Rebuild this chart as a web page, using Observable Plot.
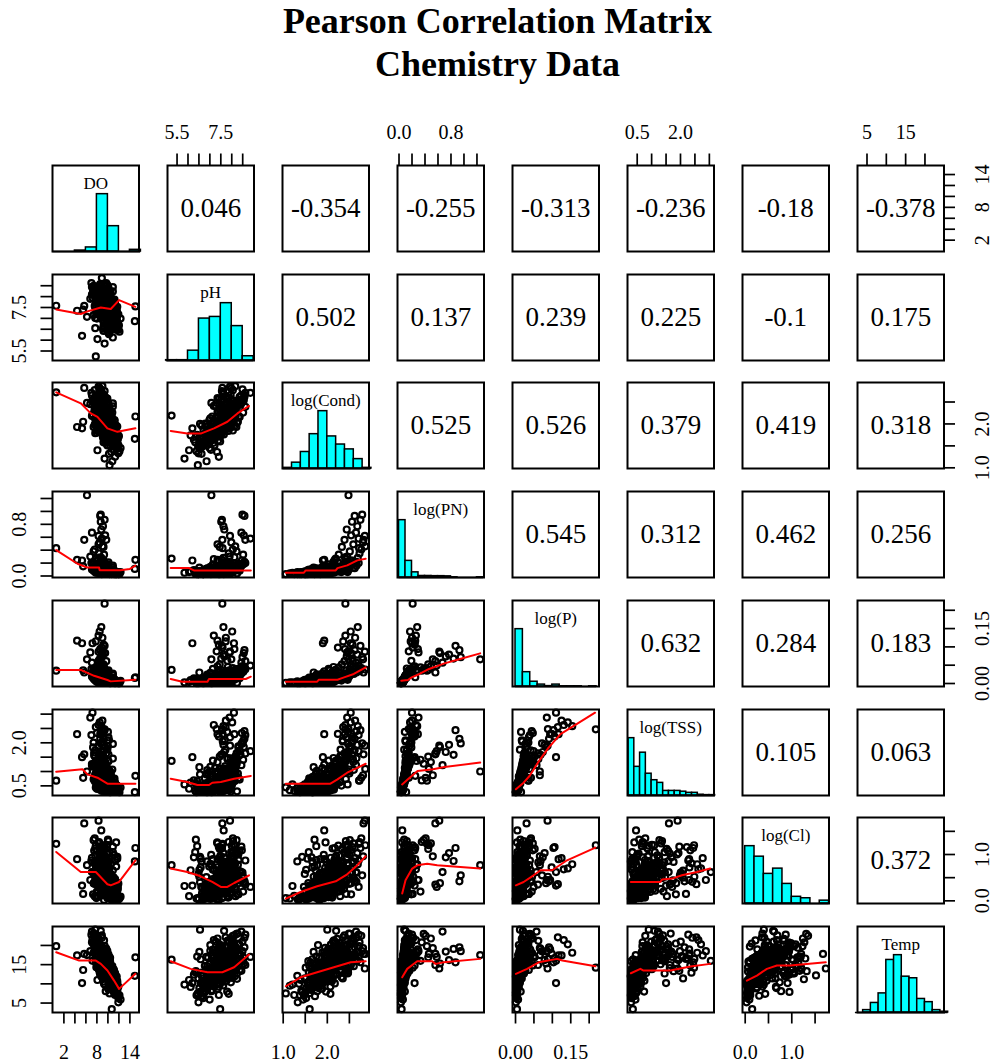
<!DOCTYPE html>
<html>
<head>
<meta charset="utf-8">
<script src="https://cdn.jsdelivr.net/npm/d3@7"></script>
<script src="https://cdn.jsdelivr.net/npm/@observablehq/plot@0.6"></script>
<style>
  body { margin: 0; background: #fff; }
  #chart { position: relative; width: 995px; height: 1063px; background: #fff;
           font-family: "Liberation Serif", "Times New Roman", serif; }
  .title { position: absolute; left: 0; width: 995px; text-align: center;
           font-weight: bold; font-size: 36px; line-height: 36px; color: #000; }
  .panel { position: absolute; }
</style>
</head>
<body>
<div id="chart">
  <div class="title" style="top:3px">Pearson Correlation Matrix</div>
  <div class="title" style="top:46px">Chemistry Data</div>
</div>
<script>
// Variable names shown on the diagonal
const names = ["DO", "pH", "log(Cond)", "log(PN)", "log(P)", "log(TSS)", "log(Cl)", "Temp"];

// Observations, one array per variable (same order in every array)
const DO = [
  10.8, 10.2, 11.1, 10.5, 9.9, 10.9, 10.3, 9.6, 11.4, 10.1,
  9.4, 10.7, 10.0, 9.7, 12.0, 10.4, 9.2, 10.6, 9.8, 11.0,
  10.2, 9.5, 12.3, 10.6, 9.1, 10.9, 11.3, 9.9, 10.4, 10.0,
  10.3, 9.6, 9.1, 10.7, 9.8, 8.9, 10.1, 9.4, 10.9, 9.3,
  10.0, 8.7, 10.5, 9.7, 9.0, 10.2, 9.5, 11.0, 8.8, 9.9,
  9.2, 10.6, 9.6, 8.6, 10.3, 9.8, 9.1, 10.8, 9.4, 10.0,
  9.0, 10.4, 9.7, 7.9, 10.1, 9.3, 10.7, 9.5, 8.9, 10.2,
  9.6, 10.4, 8.8, 9.9, 11.2, 9.2, 10.0, 9.4, 10.6, 9.0,
  9.6, 8.9, 10.1, 7.7, 9.3, 9.9, 8.7, 9.2, 10.3, 7.8,
  9.0, 9.7, 8.6, 9.4, 8.3, 9.8, 8.8, 9.1, 10.0, 7.4,
  8.9, 9.5, 8.5, 9.2, 8.7, 9.6, 8.3, 9.0, 8.6, 9.3,
  7.1, 8.8, 9.1, 8.4, 8.9, 7.6, 9.4, 8.5, 8.7, 9.0,
  9.7, 10.2, 8.6, 9.9, 8.3,
  0.6, 15.0, 14.9, 4.4, 5.3, 5.5, 8.1, 9.4, 6.2, 9.4,
  7.2, 6.8, 5.7, 8.3, 10.7, 7.7, 8.7, 10.3, 7.8,
  11.2, 10.1, 8.2, 11.5, 7.6, 10.6, 11.9, 7.9, 9.1, 8.4,
  11.6, 9.9, 8.5, 7.3, 11.3, 7.8, 11.7, 10.8, 9.7, 8.9,
  9.2, 10.4, 11.4, 8.9, 8.1, 11.8, 7.4, 10.9, 11.9, 8.2,
  11.5, 7.6, 10.9, 9.6, 10.1, 8.7, 9.3, 7.9, 11.7, 7.7,
  10.8, 11.6, 8.4, 9.6, 11.3, 8.0, 7.7, 11.4, 10.2, 8.6,
  9.3, 10.2, 11.1, 7.5, 11.6, 8.1, 11.4, 9.4, 8.3, 11.8,
  10.5, 9.4, 7.6, 11.5, 9.9, 8.7, 7.2, 10.9, 8.0, 11.2,
  8.8, 10.3, 11.7, 7.7, 11.0, 9.0, 10.1, 8.1, 11.5, 8.9,
  10.4, 8.3, 11.3, 9.8, 12.1, 8.5, 7.1, 11.6, 10.0, 8.7,
  11.4, 7.8, 10.7, 10.0, 9.5, 8.9, 10.4, 11.7, 7.4, 10.9,
  8.0, 11.6, 9.9, 8.6, 10.3, 11.5, 7.5, 10.6, 11.3, 9.7,
  8.4, 11.4, 10.1, 8.8, 7.8, 10.5, 11.9, 7.0, 9.0, 10.2,
  9.4, 10.2, 8.8, 9.9, 10.6, 9.1, 8.6, 10.0, 9.6, 10.9,
  9.0, 9.7, 10.4, 8.7, 9.3, 10.1, 9.8, 8.9, 10.5, 9.5,
  10.3, 8.5, 9.2, 10.7, 9.6, 8.8, 10.0, 9.4, 9.9, 10.8,
  8.9, 9.8, 10.2, 9.1, 8.6, 10.4, 9.5, 9.0, 10.6, 9.7,
  9.6, 10.1, 8.7, 9.3, 10.5, 9.9, 8.8, 10.2, 9.2, 9.4,
  10.0, 9.1, 9.7, 10.6, 8.9, 9.5, 10.3, 8.6, 9.8, 10.1,
  9.3, 8.8, 10.4, 9.9, 9.0, 10.7, 9.6, 9.2, 10.0, 8.7,
  10.5, 9.4, 8.9, 10.1, 9.7, 9.1, 10.3, 9.8, 8.8, 9.5
];
const pH = [
  6.85, 6.62, 7.05, 6.48, 7.21, 6.95, 6.33, 7.38, 6.74, 7.12,
  6.58, 7.46, 6.91, 7.29, 6.67, 7.55, 6.42, 7.03, 7.64, 6.81,
  6.27, 7.17, 6.99, 7.33, 6.52, 6.12, 7.41, 6.77, 7.08, 6.36,
  7.42, 7.85, 6.92, 7.61, 8.05, 7.24, 6.71, 7.73, 7.36, 8.21,
  7.09, 7.52, 7.96, 6.88, 7.67, 8.14, 7.31, 7.79, 7.14, 7.58,
  8.28, 6.79, 7.88, 7.45, 8.02, 7.19, 7.70, 7.39, 8.11, 6.98,
  7.82, 7.55, 8.31, 7.27, 7.93, 7.63, 7.11, 8.18, 7.48, 6.63,
  7.75, 8.24, 7.02, 7.57, 7.86, 6.84, 8.36, 7.34, 7.68, 8.07,
  7.92, 7.58, 7.47, 8.06, 8.52, 7.71, 7.38, 7.45, 7.84, 7.72,
  7.59, 8.62, 7.97, 7.26, 7.18, 8.09, 7.66, 7.31, 7.79, 8.22,
  7.54, 8.55, 8.02, 7.41, 7.52, 7.88, 7.35, 7.73, 8.58, 7.95,
  8.44, 7.62, 7.62, 7.86, 8.85, 8.05, 7.55, 7.98, 8.49, 8.16,
  7.35, 7.68, 8.12, 8.01, 7.80,
  7.58, 7.55, 6.87, 7.35, 6.20, 7.40, 6.05, 5.84, 7.07, 7.57,
  8.10, 7.90, 7.57, 7.92, 7.47, 6.55, 7.65, 6.45, 5.25,
  7.21, 6.88, 7.73, 7.02, 8.05, 7.55, 6.71, 7.96, 7.38, 8.22,
  6.95, 7.68, 7.46, 8.31, 7.12, 7.81, 6.55, 7.59, 7.37, 7.64,
  6.64, 7.49, 7.27, 8.12, 7.88, 6.81, 7.15, 8.44, 6.48, 7.71,
  7.33, 8.17, 6.92, 7.07, 7.92, 7.58, 7.84, 7.19, 6.58, 8.36,
  7.80, 6.47, 7.25, 8.08, 7.54, 8.46, 7.02, 6.90, 7.97, 7.66,
  7.41, 7.74, 7.06, 8.27, 6.76, 7.87, 7.50, 8.01, 7.29, 6.61,
  8.15, 7.17, 7.57, 6.68, 8.53, 7.28, 7.95, 8.24, 6.99, 7.76,
  7.63, 7.91, 7.11, 7.52, 6.84, 7.98, 8.40, 7.43, 6.97, 8.58,
  6.83, 7.36, 7.70, 7.99, 6.39, 7.22, 8.09, 7.31, 8.30, 7.47,
  7.04, 8.00, 7.61, 6.52, 8.19, 7.14, 7.83, 7.53, 8.49, 6.91,
  7.26, 7.35, 7.86, 7.69, 7.44, 6.86, 8.35, 7.92, 6.70, 8.13,
  7.50, 6.74, 8.06, 7.32, 7.60, 7.77, 7.19, 8.62, 7.05, 7.89,
  7.45, 7.12, 7.88, 7.31, 7.02, 7.67, 8.05, 7.23, 7.56, 6.94,
  7.79, 7.38, 7.15, 8.12, 7.61, 7.27, 7.49, 7.95, 7.08, 7.72,
  7.19, 8.18, 7.83, 6.98, 7.42, 7.91, 7.29, 7.64, 7.53, 7.05,
  7.99, 7.35, 7.11, 7.76, 8.09, 7.21, 7.58, 7.84, 6.91, 7.47,
  7.52, 7.26, 8.01, 7.69, 7.09, 7.40, 7.93, 7.17, 7.81, 7.63,
  7.33, 7.86, 7.50, 7.04, 8.14, 7.71, 7.24, 8.03, 7.44, 7.18,
  7.66, 8.07, 7.13, 7.48, 7.90, 6.97, 7.57, 7.77, 7.36, 8.15,
  7.07, 7.60, 7.97, 7.28, 7.54, 7.85, 7.16, 7.41, 8.11, 7.74
];
const logCond = [
  1.15, 1.32, 1.41, 1.49, 1.51, 1.56, 1.58, 1.62, 1.60, 1.67,
  1.66, 1.71, 1.69, 1.74, 1.72, 1.77, 1.75, 1.79, 1.76, 1.80,
  1.64, 1.57, 1.45, 1.36, 1.69, 1.74, 1.25, 1.59, 1.67, 1.71,
  1.81, 1.84, 1.82, 1.87, 1.85, 1.89, 1.86, 1.90, 1.88, 1.93,
  1.91, 1.95, 1.92, 1.94, 1.98, 1.96, 2.00, 1.97, 2.03, 1.99,
  2.05, 2.01, 2.02, 2.08, 2.04, 2.06, 2.11, 2.07, 2.10, 2.09,
  2.14, 2.12, 2.16, 2.13, 2.15, 2.19, 2.17, 2.18, 2.20, 1.96,
  1.88, 2.02, 2.13, 1.93, 2.07, 1.99, 2.16, 1.85, 2.10, 2.05,
  2.21, 2.24, 2.23, 2.27, 2.26, 2.30, 2.29, 2.33, 2.32, 2.36,
  2.35, 2.39, 2.38, 2.42, 2.41, 2.45, 2.44, 2.48, 2.47, 2.51,
  2.50, 2.54, 2.53, 2.57, 2.56, 2.60, 2.59, 2.63, 2.62, 2.66,
  2.65, 2.69, 2.68, 2.73, 2.71, 2.77, 2.75, 2.81, 2.79, 2.86,
  2.28, 2.35, 2.40, 2.46, 2.58,
  2.72, 2.17, 1.66, 1.93, 1.90, 2.05, 1.40, 1.21, 2.48, 2.41,
  2.53, 2.45, 2.82, 2.85, 1.60, 2.00, 2.20, 1.06, 2.19,
  1.87, 1.62, 2.05, 1.74, 2.33, 1.95, 1.52, 2.18, 1.81, 2.41,
  1.69, 2.12, 1.91, 2.54, 1.78, 1.99, 1.43, 2.26, 2.02, 1.84,
  1.58, 2.08, 1.72, 2.39, 2.21, 1.65, 1.93, 2.47, 1.33, 1.88,
  1.96, 2.29, 1.64, 1.77, 2.43, 2.01, 2.15, 1.86, 1.55, 2.62,
  2.11, 1.49, 1.83, 2.36, 1.97, 2.53, 1.79, 1.68, 2.24, 2.06,
  1.82, 2.19, 1.92, 2.49, 1.61, 2.03, 1.75, 2.30, 2.14, 1.47,
  2.27, 1.70, 1.98, 1.56, 2.58, 1.89, 2.22, 2.40, 1.80, 2.09,
  1.93, 2.35, 1.63, 2.12, 1.76, 2.00, 2.44, 1.85, 1.71, 2.66,
  1.59, 2.04, 1.87, 2.31, 1.38, 1.95, 2.18, 1.73, 2.50, 2.07,
  1.66, 2.25, 2.01, 1.52, 2.38, 1.84, 2.11, 1.94, 2.56, 1.78,
  1.90, 1.80, 2.28, 2.05, 1.97, 1.67, 2.45, 2.16, 1.50, 2.34,
  1.83, 1.61, 2.42, 1.98, 2.09, 2.20, 1.74, 2.71, 1.88, 2.32,
  1.98, 1.84, 2.21, 1.90, 1.79, 2.07, 2.26, 1.86, 2.02, 1.76,
  2.13, 1.93, 1.81, 2.29, 2.04, 1.88, 1.99, 2.19, 1.83, 2.10,
  1.85, 2.27, 2.16, 1.78, 1.95, 2.22, 1.91, 2.06, 2.00, 1.80,
  2.24, 1.92, 1.82, 2.11, 2.28, 1.87, 2.03, 2.17, 1.77, 1.97,
  2.01, 1.89, 2.23, 2.08, 1.83, 1.96, 2.20, 1.86, 2.14, 2.05,
  1.94, 2.18, 1.99, 1.81, 2.30, 2.09, 1.88, 2.25, 1.97, 1.85,
  2.06, 2.27, 1.84, 2.00, 2.19, 1.79, 2.03, 2.12, 1.93, 2.28,
  1.82, 2.04, 2.22, 1.90, 2.01, 2.15, 1.86, 1.98, 2.26, 2.09
];
const logPN = [
  0.04, 0.06, 0.03, 0.07, 0.05, 0.09, 0.04, 0.08, 0.05, 0.11,
  0.06, 0.03, 0.07, 0.10, 0.04, 0.05, 0.08, 0.06, 0.12, 0.05,
  0.09, 0.04, 0.06, 0.05, 0.13, 0.07, 0.03, 0.10, 0.04, 0.08,
  0.05, 0.08, 0.11, 0.04, 0.07, 0.14, 0.06, 0.09, 0.05, 0.16,
  0.07, 0.10, 0.04, 0.12, 0.06, 0.08, 0.05, 0.09, 0.18, 0.06,
  0.11, 0.07, 0.05, 0.13, 0.08, 0.06, 0.15, 0.04, 0.10, 0.07,
  0.22, 0.06, 0.09, 0.12, 0.05, 0.08, 0.06, 0.17, 0.10, 0.05,
  0.07, 0.04, 0.14, 0.06, 0.05, 0.11, 0.08, 0.09, 0.05, 0.13,
  0.09, 0.21, 0.07, 0.14, 0.33, 0.08, 0.11, 0.45, 0.06, 0.18,
  0.10, 0.56, 0.13, 0.08, 0.26, 0.12, 0.72, 0.15, 0.09, 0.38,
  0.11, 0.63, 0.17, 0.24, 0.84, 0.13, 0.49, 0.20, 0.93, 0.16,
  0.67, 0.28, 0.77, 0.35, 0.58, 0.41, 0.87, 0.52, 0.95, 0.46,
  0.07, 0.10, 0.29, 0.06, 0.19,
  0.43, 0.25, 0.11, 0.25, 0.24, 0.15, 0.06, 0.05, 1.25, 0.21,
  0.20, 0.30, 0.56, 0.62, 0.04, 0.08, 0.10, 0.03, 0.27,
  0.05, 0.04, 0.08, 0.06, 0.12, 0.07, 0.03, 0.09, 0.05, 0.14,
  0.06, 0.11, 0.04, 0.19, 0.07, 0.05, 0.05, 0.10, 0.08, 0.03,
  0.04, 0.07, 0.05, 0.13, 0.09, 0.06, 0.08, 0.16, 0.03, 0.06,
  0.05, 0.10, 0.04, 0.05, 0.21, 0.06, 0.09, 0.07, 0.04, 0.12,
  0.06, 0.03, 0.05, 0.11, 0.04, 0.24, 0.08, 0.05, 0.09, 0.07,
  0.04, 0.08, 0.06, 0.15, 0.05, 0.07, 0.04, 0.10, 0.06, 0.04,
  0.09, 0.05, 0.07, 0.03, 0.18, 0.06, 0.11, 0.13, 0.05, 0.08,
  0.05, 0.10, 0.04, 0.09, 0.06, 0.05, 0.14, 0.07, 0.04, 0.22,
  0.04, 0.06, 0.05, 0.11, 0.03, 0.06, 0.10, 0.05, 0.16, 0.07,
  0.05, 0.09, 0.06, 0.04, 0.12, 0.05, 0.08, 0.06, 0.19, 0.04,
  0.06, 0.04, 0.10, 0.07, 0.05, 0.04, 0.13, 0.08, 0.03, 0.11,
  0.05, 0.04, 0.12, 0.06, 0.08, 0.09, 0.05, 0.20, 0.06, 0.10,
  0.06, 0.05, 0.08, 0.04, 0.05, 0.07, 0.09, 0.05, 0.06, 0.04,
  0.07, 0.05, 0.04, 0.10, 0.06, 0.05, 0.06, 0.08, 0.04, 0.07,
  0.05, 0.09, 0.07, 0.04, 0.06, 0.08, 0.05, 0.06, 0.07, 0.04,
  0.08, 0.05, 0.04, 0.07, 0.10, 0.05, 0.06, 0.07, 0.04, 0.06,
  0.06, 0.05, 0.08, 0.07, 0.04, 0.05, 0.09, 0.05, 0.07, 0.06,
  0.05, 0.07, 0.06, 0.04, 0.11, 0.07, 0.05, 0.08, 0.06, 0.05,
  0.07, 0.09, 0.05, 0.06, 0.08, 0.04, 0.06, 0.07, 0.05, 0.10,
  0.04, 0.06, 0.08, 0.05, 0.06, 0.07, 0.05, 0.06, 0.09, 0.07
];
const logP = [
  0.003, 0.006, 0.002, 0.010, 0.004, 0.012, 0.005, 0.015, 0.003, 0.018,
  0.007, 0.002, 0.009, 0.021, 0.004, 0.006, 0.011, 0.008, 0.025, 0.005,
  0.014, 0.003, 0.007, 0.004, 0.030, 0.009, 0.002, 0.016, 0.001, 0.013,
  0.006, 0.012, 0.021, 0.003, 0.009, 0.028, 0.005, 0.017, 0.004, 0.033,
  0.008, 0.019, 0.002, 0.024, 0.007, 0.011, 0.004, 0.014, 0.040, 0.006,
  0.022, 0.010, 0.005, 0.026, 0.013, 0.008, 0.031, 0.003, 0.018, 0.009,
  0.045, 0.006, 0.015, 0.023, 0.004, 0.012, 0.007, 0.036, 0.020, 0.005,
  0.010, 0.002, 0.029, 0.008, 0.003, 0.019, 0.014, 0.016, 0.006, 0.027,
  0.016, 0.098, 0.009, 0.031, 0.044, 0.012, 0.022, 0.052, 0.008, 0.115,
  0.018, 0.061, 0.027, 0.014, 0.131, 0.024, 0.074, 0.088, 0.015, 0.039,
  0.020, 0.083, 0.142, 0.106, 0.068, 0.026, 0.047, 0.125, 0.091, 0.030,
  0.057, 0.154, 0.079, 0.035, 0.049, 0.042, 0.103, 0.066, 0.072, 0.038,
  0.011, 0.017, 0.094, 0.010, 0.062,
  0.035, 0.017, 0.015, 0.117, 0.110, 0.036, 0.004, 0.003, 0.066, 0.218,
  0.110, 0.085, 0.030, 0.087, 0.004, 0.012, 0.020, 0.002, 0.037,
  0.006, 0.003, 0.011, 0.004, 0.019, 0.008, 0.002, 0.014, 0.005, 0.024,
  0.005, 0.017, 0.003, 0.029, 0.007, 0.009, 0.004, 0.016, 0.012, 0.002,
  0.003, 0.010, 0.006, 0.021, 0.015, 0.004, 0.013, 0.027, 0.001, 0.007,
  0.004, 0.022, 0.003, 0.005, 0.036, 0.008, 0.018, 0.006, 0.002, 0.041,
  0.007, 0.002, 0.004, 0.019, 0.003, 0.047, 0.009, 0.004, 0.013, 0.010,
  0.003, 0.011, 0.006, 0.025, 0.003, 0.009, 0.002, 0.020, 0.008, 0.002,
  0.014, 0.004, 0.010, 0.002, 0.032, 0.006, 0.017, 0.023, 0.005, 0.011,
  0.005, 0.016, 0.003, 0.014, 0.005, 0.004, 0.028, 0.007, 0.003, 0.044,
  0.002, 0.007, 0.004, 0.018, 0.001, 0.006, 0.019, 0.004, 0.030, 0.009,
  0.003, 0.015, 0.008, 0.002, 0.021, 0.004, 0.012, 0.006, 0.035, 0.003,
  0.008, 0.003, 0.016, 0.009, 0.005, 0.002, 0.026, 0.012, 0.001, 0.020,
  0.005, 0.003, 0.022, 0.007, 0.013, 0.015, 0.004, 0.039, 0.006, 0.018,
  0.007, 0.004, 0.012, 0.005, 0.003, 0.009, 0.014, 0.005, 0.008, 0.002,
  0.010, 0.006, 0.003, 0.016, 0.008, 0.004, 0.007, 0.012, 0.003, 0.009,
  0.004, 0.015, 0.011, 0.002, 0.006, 0.013, 0.005, 0.008, 0.007, 0.003,
  0.013, 0.005, 0.003, 0.010, 0.017, 0.004, 0.008, 0.011, 0.002, 0.006,
  0.008, 0.004, 0.012, 0.009, 0.003, 0.006, 0.014, 0.005, 0.010, 0.007,
  0.005, 0.011, 0.007, 0.003, 0.018, 0.009, 0.004, 0.013, 0.006, 0.004,
  0.009, 0.015, 0.004, 0.007, 0.012, 0.002, 0.008, 0.010, 0.005, 0.016,
  0.003, 0.008, 0.013, 0.005, 0.007, 0.011, 0.004, 0.006, 0.014, 0.009
];
const logTSS = [
  0.35, 0.42, 0.31, 0.55, 0.38, 0.64, 0.33, 0.72, 0.45, 0.81,
  0.36, 0.29, 0.58, 0.92, 0.40, 0.47, 0.66, 0.34, 1.02, 0.52,
  0.69, 0.30, 0.44, 0.37, 1.15, 0.61, 0.32, 0.76, 0.28, 0.57,
  0.48, 0.71, 0.95, 0.33, 0.62, 1.12, 0.40, 0.86, 0.36, 1.24,
  0.52, 0.79, 0.30, 1.05, 0.45, 0.67, 0.38, 0.74, 1.38, 0.50,
  0.93, 0.59, 0.42, 1.09, 0.70, 0.47, 1.19, 0.34, 0.84, 0.55,
  1.47, 0.41, 0.77, 0.99, 0.37, 0.65, 0.49, 1.31, 0.88, 0.44,
  0.60, 0.31, 1.16, 0.53, 0.35, 0.90, 0.72, 0.81, 0.39, 1.08,
  0.82, 2.31, 0.58, 1.20, 1.41, 1.76, 0.96, 1.52, 0.51, 2.55,
  2.05, 1.63, 1.11, 0.74, 2.62, 1.01, 1.68, 2.48, 2.38, 1.27,
  0.93, 1.85, 2.71, 2.22, 1.58, 1.06, 1.33, 2.77, 2.14, 1.46,
  1.22, 2.58, 1.93, 0.69, 1.71, 0.78, 2.44, 0.87, 1.98, 1.09,
  0.63, 2.09, 2.30, 0.55, 1.44,
  0.68, 0.85, 0.28, 2.30, 1.50, 0.78, 0.40, 0.55, 1.00, 2.47,
  3.05, 2.88, 1.60, 1.90, 0.35, 0.90, 1.10, 0.45, 1.37,
  0.46, 0.33, 0.71, 0.39, 1.28, 0.58, 0.30, 0.92, 0.41, 1.63,
  0.52, 0.96, 0.37, 1.84, 0.61, 0.44, 0.49, 1.07, 0.79, 0.32,
  0.35, 0.67, 0.48, 1.39, 0.88, 0.42, 0.73, 1.96, 0.29, 0.55,
  0.40, 1.53, 0.31, 0.47, 2.19, 0.60, 1.12, 0.51, 0.34, 1.74,
  0.57, 0.30, 0.45, 1.21, 0.36, 2.34, 0.83, 0.38, 0.99, 0.64,
  0.37, 0.81, 0.50, 1.66, 0.43, 0.70, 0.33, 1.35, 0.62, 0.31,
  0.94, 0.39, 0.66, 0.29, 2.08, 0.53, 1.17, 1.45, 0.40, 0.75,
  0.46, 1.03, 0.35, 0.86, 0.41, 0.48, 1.59, 0.56, 0.32, 2.41,
  0.30, 0.59, 0.44, 1.14, 0.28, 0.54, 1.26, 0.36, 1.88, 0.68,
  0.37, 0.90, 0.60, 0.31, 1.32, 0.43, 0.77, 0.49, 2.01, 0.34,
  0.65, 0.38, 1.10, 0.69, 0.47, 0.33, 1.57, 0.82, 0.29, 1.24,
  0.42, 0.36, 1.36, 0.57, 0.80, 0.97, 0.40, 2.27, 0.52, 1.05,
  0.55, 0.41, 0.78, 0.47, 0.36, 0.63, 0.89, 0.44, 0.59, 0.33,
  0.70, 0.50, 0.38, 0.95, 0.58, 0.42, 0.54, 0.81, 0.35, 0.66,
  0.43, 0.92, 0.74, 0.31, 0.52, 0.85, 0.46, 0.62, 0.57, 0.34,
  0.83, 0.49, 0.37, 0.68, 1.01, 0.40, 0.60, 0.76, 0.32, 0.53,
  0.61, 0.45, 0.80, 0.65, 0.36, 0.51, 0.87, 0.43, 0.71, 0.56,
  0.48, 0.77, 0.58, 0.35, 1.06, 0.64, 0.42, 0.84, 0.54, 0.39,
  0.66, 0.91, 0.41, 0.56, 0.79, 0.30, 0.60, 0.72, 0.46, 0.98,
  0.34, 0.62, 0.82, 0.47, 0.57, 0.73, 0.40, 0.52, 0.88, 0.67
];
const logCl = [
  0.05, 0.85, 0.08, 0.58, 0.22, 0.06, 1.05, 0.29, 0.10, 0.35,
  0.72, 0.26, 0.14, 0.41, 0.07, 0.31, 1.18, 0.04, 0.46, 0.12,
  0.94, 0.38, 0.09, 0.03, 0.52, 0.66, 0.11, 0.33, 0.21, 1.32,
  0.27, 0.41, 0.19, 0.08, 0.55, 0.36, 0.13, 0.62, 0.05, 0.48,
  0.22, 0.71, 0.17, 0.39, 0.84, 0.30, 0.58, 0.11, 0.67, 0.25,
  0.78, 0.15, 0.44, 0.93, 0.32, 0.20, 0.61, 0.09, 0.73, 0.37,
  0.52, 0.26, 0.88, 0.46, 0.18, 0.69, 0.34, 0.57, 0.97, 0.28,
  0.50, 0.14, 0.80, 0.06, 0.43, 0.23, 0.64, 0.39, 0.21, 0.75,
  0.55, 0.72, 0.31, 0.98, 0.20, 0.84, 0.63, 1.12, 0.27, 0.36,
  0.58, 0.35, 1.05, 0.40, 0.68, 1.21, 0.94, 0.52, 0.81, 1.31,
  0.37, 0.38, 0.70, 1.16, 0.86, 0.48, 1.24, 0.92, 0.42, 0.61,
  0.62, 0.79, 1.03, 1.27, 0.30, 1.35, 1.14, 0.96, 0.55, 1.20,
  0.22, 0.65, 0.45, 1.02, 0.83,
  1.23, 1.14, 0.85, 0.90, 0.33, 0.15, 0.10, 0.32, 0.77, 1.20,
  0.62, 0.45, 1.67, 1.73, 0.15, 0.40, 0.60, 0.06, 0.77,
  0.28, 0.07, 0.52, 0.18, 0.81, 0.35, 0.04, 0.62, 0.12, 1.02,
  0.40, 0.26, 0.58, 0.14, 0.47, 0.09, 0.95, 0.33, 0.73, 0.21,
  0.16, 0.57, 0.11, 0.69, 0.86, 0.25, 0.38, 1.17, 0.03, 0.49,
  1.26, 0.10, 0.31, 0.77, 0.15, 0.64, 0.22, 0.06, 0.91, 0.44,
  0.36, 0.05, 0.27, 0.84, 0.19, 1.09, 0.42, 0.13, 0.71, 0.54,
  0.02, 0.59, 0.99, 0.37, 0.24, 0.08, 0.88, 0.49, 0.66, 0.30,
  0.79, 0.14, 0.55, 0.04, 0.50, 0.27, 0.83, 1.05, 0.20, 0.46,
  1.52, 0.33, 0.09, 1.13, 0.51, 0.29, 0.62, 0.19, 0.74, 0.41,
  0.06, 0.35, 0.23, 0.70, 0.05, 0.45, 0.93, 0.17, 1.00, 0.28,
  0.15, 1.19, 0.34, 0.67, 0.26, 0.90, 0.07, 0.39, 0.61, 0.11,
  0.48, 0.20, 0.76, 0.43, 0.32, 0.08, 1.08, 0.56, 0.04, 0.82,
  0.60, 0.30, 1.29, 0.18, 0.68, 0.53, 0.37, 0.87, 0.12, 0.25,
  0.34, 0.18, 0.61, 0.27, 0.12, 0.48, 0.40, 0.22, 0.55, 0.09,
  0.29, 0.43, 0.15, 0.70, 0.38, 0.24, 0.51, 0.32, 0.20, 0.63,
  0.26, 0.46, 0.75, 0.11, 0.35, 0.57, 0.30, 0.49, 0.41, 0.16,
  0.66, 0.28, 0.21, 0.53, 0.39, 0.19, 0.45, 0.80, 0.13, 0.36,
  0.42, 0.31, 0.59, 0.50, 0.17, 0.37, 0.68, 0.25, 0.47, 0.33,
  0.23, 0.72, 0.44, 0.14, 0.58, 0.52, 0.27, 0.64, 0.38, 0.20,
  0.49, 0.35, 0.26, 0.40, 0.77, 0.10, 0.45, 0.56, 0.31, 0.62,
  0.18, 0.43, 0.69, 0.29, 0.36, 0.54, 0.22, 0.48, 0.60, 0.41
];
const Temp = [
  9.5, 12.1, 8.2, 11.4, 14.2, 10.3, 13.0, 15.6, 7.6, 12.8,
  16.4, 9.9, 13.5, 14.9, 6.8, 11.7, 17.1, 10.8, 14.4, 8.9,
  12.4, 15.9, 5.9, 10.0, 18.3, 9.2, 7.1, 14.7, 11.9, 13.3,
  11.2, 14.0, 16.8, 9.6, 13.1, 18.2, 12.3, 15.5, 8.7, 16.1,
  13.7, 19.4, 10.4, 14.6, 17.5, 12.0, 15.2, 8.0, 18.9, 13.4,
  16.6, 10.9, 14.3, 20.2, 11.6, 13.9, 17.3, 9.3, 15.8, 12.6,
  18.0, 11.1, 14.8, 21.0, 12.2, 16.3, 10.1, 15.1, 19.7, 12.9,
  14.1, 11.3, 18.6, 13.2, 7.4, 17.0, 13.6, 15.4, 10.6, 17.8,
  14.4, 17.9, 12.5, 20.6, 16.0, 13.3, 18.7, 16.9, 11.8, 22.1,
  17.2, 14.9, 19.8, 15.7, 21.4, 13.8, 18.4, 16.5, 12.9, 23.0,
  17.6, 15.3, 20.3, 16.7, 19.1, 14.6, 21.8, 17.4, 19.5, 15.9,
  23.6, 18.1, 16.2, 20.8, 17.0, 22.5, 15.6, 19.3, 18.5, 17.8,
  13.5, 11.4, 19.0, 12.7, 21.2,
  19.8, 16.9, 12.1, 17.4, 10.2, 13.6, 11.0, 9.8, 17.5, 14.2,
  16.0, 18.5, 17.8, 14.0, 3.4, 24.1, 23.8, 7.5, 16.3,
  12.4, 8.6, 15.3, 10.9, 18.8, 13.7, 6.3, 16.2, 11.5, 14.1,
  9.8, 17.4, 13.0, 20.5, 11.8, 15.9, 7.9, 14.6, 19.2, 12.9,
  10.6, 16.8, 12.1, 22.6, 14.9, 9.1, 18.1, 13.4, 5.2, 15.6,
  11.2, 19.7, 13.9, 8.1, 16.5, 12.6, 21.3, 14.3, 10.2, 17.8,
  13.2, 7.3, 15.1, 18.6, 11.0, 14.8, 20.1, 9.4, 16.0, 12.3,
  10.0, 17.1, 13.6, 23.1, 8.8, 15.4, 12.0, 19.9, 14.0, 6.9,
  14.5, 11.4, 18.3, 9.6, 16.9, 13.1, 21.7, 12.7, 15.2, 10.8,
  12.2, 16.3, 8.4, 19.4, 13.8, 11.6, 17.6, 14.7, 10.4, 22.0,
  9.0, 15.0, 12.8, 18.0, 7.0, 14.2, 20.8, 11.9, 16.4, 13.5,
  11.1, 17.0, 14.4, 8.9, 19.0, 12.5, 15.8, 10.7, 21.0, 13.3,
  15.5, 9.9, 18.5, 12.9, 16.1, 11.3, 20.3, 14.0, 7.7, 17.3,
  13.7, 10.3, 16.6, 12.0, 18.9, 14.9, 9.3, 22.8, 11.7, 15.7,
  14.0, 11.5, 17.2, 12.8, 10.1, 15.9, 18.4, 12.2, 13.5, 9.4,
  16.5, 13.8, 10.8, 18.9, 15.1, 12.5, 13.0, 17.7, 10.6, 14.6,
  11.3, 19.1, 16.2, 9.9, 13.9, 17.4, 12.0, 14.9, 13.2, 10.3,
  17.9, 13.4, 11.7, 15.6, 18.6, 10.9, 14.3, 16.8, 10.0, 14.7,
  14.2, 12.9, 17.6, 15.3, 11.1, 13.7, 18.1, 12.4, 15.8, 14.5,
  12.6, 16.1, 14.8, 10.5, 18.2, 15.0, 11.9, 19.4, 13.1, 12.1,
  15.4, 17.0, 11.4, 13.6, 16.7, 10.2, 14.1, 15.7, 12.7, 18.8,
  10.7, 14.4, 17.3, 12.3, 13.3, 16.4, 11.6, 13.9, 18.0, 15.2
];

// Observed range of each variable (axis limits add 4% on both sides)
const ranges = [[0.51, 15.07], [5.21, 8.87], [1.057, 2.872], [0.026, 1.259],
                [0.0005, 0.218], [0.275, 3.05], [0.011, 1.73], [3.37, 24.1]];

// Pearson correlations (upper triangle, row by row)
const corrDO   = [0.046, -0.354, -0.255, -0.313, -0.236, -0.18, -0.378];
const corrPH   = [0.502, 0.137, 0.239, 0.225, -0.1, 0.175];
const corrCond = [0.525, 0.526, 0.379, 0.419, 0.318];
const corrPN   = [0.545, 0.312, 0.462, 0.256];
const corrP    = [0.632, 0.284, 0.183];
const corrTSS  = [0.105, 0.063];
const corrCl   = [0.372];

// Histogram bins: first break, bin width and counts
const binStart = [0, 5.0, 1.0, 0, 0, 0.2, 0, 2];
const binWidth = [2, 0.5, 0.2, 0.1, 0.02, 0.2, 0.2, 2];
const countsDO   = [0, 0, 4, 17, 240, 106, 0, 7];
const countsPH   = [1, 1, 30, 128, 133, 175, 105, 13];
const countsCond = [2, 18, 51, 106, 177, 99, 74, 59, 29, 2];
const countsPN   = [300, 87, 27, 8, 8, 7, 7, 6, 1, 0, 0, 0, 1];
const countsP    = [300, 75, 25, 10, 2, 10, 1, 1, 1, 0, 1];
const countsTSS  = [150, 75, 112, 57, 40, 33, 12, 12, 12, 10, 7, 7, 2, 1, 1];
const countsCl   = [120, 98, 62, 73, 41, 14, 11, 0, 6];
const countsTemp = [0, 3, 12, 24, 66, 72, 45, 43, 17, 13, 3, 1];

// Axis ticks and the subset that carries a label
const tickValues = [
  [2, 4, 6, 8, 10, 12, 14],
  [5.5, 6, 6.5, 7, 7.5, 8, 8.5],
  [1.0, 1.5, 2.0, 2.5],
  [0, 0.2, 0.4, 0.6, 0.8, 1.0, 1.2],
  [0, 0.05, 0.1, 0.15, 0.2],
  [0.5, 1.0, 1.5, 2.0, 2.5, 3.0],
  [0, 0.5, 1.0, 1.5],
  [5, 10, 15, 20]
];
const tickLabels = [[2, 8, 14], [5.5, 7.5], [1.0, 2.0], [0, 0.8], [0, 0.15], [0.5, 2.0], [0, 1.0], [5, 15]];
const labelDigits = [0, 1, 1, 1, 2, 1, 1, 0];

// Smoothed trend through each scatter: [x, y] pairs, one line per column to the left
const smoothPH = [
  [[0.6, 7.41], [5.07, 7.20], [6.29, 7.32], [8.71, 7.50], [10.52, 7.43], [12.03, 7.84], [15.0, 7.53]]
];
const smoothCond = [
  [[0.6, 2.72], [5.07, 2.47], [6.89, 2.24], [8.1, 2.16], [9.91, 1.90], [11.73, 1.82], [15.0, 1.90]],
  [[5.21, 1.84], [5.97, 1.78], [6.58, 1.78], [7.19, 1.90], [7.80, 2.05], [8.26, 2.24], [8.79, 2.41]]
];
const smoothPN = [
  [[0.6, 0.40], [4.47, 0.19], [6.29, 0.13], [8.4, 0.13], [8.5, 0.09], [12.3, 0.09], [14.0, 0.11], [15.0, 0.16]],
  [[5.21, 0.122], [6.05, 0.122], [6.27, 0.087], [8.87, 0.087]],
  [[1.06, 0.051], [1.47, 0.051], [1.51, 0.087], [2.19, 0.087], [2.23, 0.122], [2.45, 0.164], [2.68, 0.242], [2.87, 0.268]]
];
const smoothP = [
  [[0.6, 0.037], [5.07, 0.037], [7.49, 0.021], [9.91, 0.0096], [10.5, 0.0058], [15.0, 0.0104]],
  [[5.21, 0.0123], [5.74, 0.005], [6.89, 0.005], [6.96, 0.0123], [8.64, 0.0123], [8.87, 0.0186]],
  [[1.06, 0.005], [1.77, 0.005], [1.81, 0.0104], [2.23, 0.0104], [2.38, 0.0167], [2.60, 0.026], [2.87, 0.044]],
  [[0.035, 0.0077], [0.137, 0.0096], [0.195, 0.0167], [0.316, 0.026], [0.463, 0.0397], [0.70, 0.055], [0.939, 0.067], [1.25, 0.0823]]
];
const smoothTSS = [
  [[0.6, 0.993], [5.38, 1.077], [6.29, 0.90], [8.1, 0.784], [9.91, 0.575], [15.0, 0.575]],
  [[5.21, 0.75], [5.97, 0.634], [6.43, 0.53], [6.96, 0.53], [7.11, 0.61], [7.50, 0.634], [8.11, 0.75], [8.87, 0.843]],
  [[1.06, 0.575], [2.07, 0.575], [2.23, 0.728], [2.45, 0.958], [2.68, 1.13], [2.87, 1.27]],
  [[0.048, 0.55], [0.137, 0.728], [0.285, 1.017], [0.523, 1.077], [0.70, 1.157], [1.25, 1.31]],
  [[0.001, 0.38], [0.022, 0.61], [0.038, 0.843], [0.064, 1.37], [0.090, 1.83], [0.122, 2.30], [0.216, 3.05]]
];
const smoothCl = [
  [[0.6, 1.055], [5.07, 0.623], [7.8, 0.623], [9.91, 0.357], [10.5, 0.335], [12.03, 0.407], [15.0, 0.875]],
  [[5.21, 0.696], [5.97, 0.623], [6.58, 0.53], [7.11, 0.407], [7.50, 0.30], [7.80, 0.30], [8.11, 0.385], [8.79, 0.551]],
  [[1.06, 0.048], [1.394, 0.19], [1.77, 0.314], [2.19, 0.422], [2.45, 0.573], [2.68, 0.767], [2.87, 0.962]],
  [[0.049, 0.156], [0.10, 0.443], [0.203, 0.696], [0.28, 0.767], [0.434, 0.80], [0.588, 0.767], [1.25, 0.696]],
  [[0.001, 0.335], [0.022, 0.407], [0.049, 0.551], [0.068, 0.66], [0.0995, 0.66], [0.140, 0.875], [0.217, 1.15]],
  [[0.28, 0.407], [1.30, 0.407], [1.36, 0.458], [1.71, 0.48], [2.05, 0.551], [2.57, 0.623], [3.03, 0.696]]
];
const smoothTemp = [
  [[0.6, 18.23], [4.77, 16.06], [7.8, 16.06], [8.71, 15.2], [9.91, 13.46], [11.12, 10.85], [12.03, 8.69], [15.0, 12.6]],
  [[5.21, 15.88], [6.12, 13.9], [6.89, 13.02], [7.57, 13.02], [8.11, 14.32], [8.79, 17.63]],
  [[1.06, 9.37], [1.394, 11.71], [1.77, 13.02], [2.15, 14.32], [2.53, 15.62], [2.87, 15.88]],
  [[0.049, 11.71], [0.126, 13.9], [0.28, 15.88], [0.511, 15.88], [0.562, 15.2], [0.69, 15.62], [1.25, 16.5]],
  [[0.001, 12.6], [0.0315, 13.9], [0.063, 15.62], [0.113, 16.5], [0.127, 16.06], [0.217, 14.58]],
  [[0.28, 12.76], [0.61, 13.9], [0.72, 13.46], [1.65, 13.46], [2.34, 14.5], [3.03, 15.2]],
  [[0.036, 10.85], [0.251, 12.15], [0.466, 13.9], [0.681, 14.76], [0.967, 14.76], [1.73, 15.62]]
];

// ---- assemble ----
const columns = [DO, pH, logCond, logPN, logP, logTSS, logCl, Temp];
const correlations = [corrDO, corrPH, corrCond, corrPN, corrP, corrTSS, corrCl];
const histCounts = [countsDO, countsPH, countsCond, countsPN, countsP, countsTSS, countsCl, countsTemp];
const smoothLines = [null, smoothPH, smoothCond, smoothPN, smoothP, smoothTSS, smoothCl, smoothTemp];
const records = DO.map((_, i) => columns.map(col => col[i]));
const limits = ranges.map(([a, b]) => [a - 0.04 * (b - a), b + 0.04 * (b - a)]);

const FONT = "'Liberation Serif', 'Times New Roman', serif";
const M = 56, PW = 86.5, PH = 86, TICK = 11.5;
const colLeft = (c) => 51.7 + 115.1 * c;
const rowTop = (r) => 165 + 108.7 * r;

function axisMarks(k, side) {
  const fmt = d3.format(`.${labelDigits[k]}f`);
  const ticks = tickValues[k], labels = tickLabels[k];
  const tickStyle = {stroke: "black", strokeWidth: 1.7};
  const textStyle = {text: fmt, fontSize: 20, fill: "black", textAnchor: "middle", lineAnchor: "middle"};
  if (side === "top") return [
    Plot.ruleX(ticks, {x: (d) => d, insetTop: -TICK, insetBottom: PH, ...tickStyle}),
    Plot.text(labels, {x: (d) => d, frameAnchor: "top", dy: -33, ...textStyle})
  ];
  if (side === "bottom") return [
    Plot.ruleX(ticks, {x: (d) => d, insetTop: PH, insetBottom: -TICK, ...tickStyle}),
    Plot.text(labels, {x: (d) => d, frameAnchor: "bottom", dy: 40, ...textStyle})
  ];
  if (side === "left") return [
    Plot.ruleY(ticks, {y: (d) => d, insetLeft: -TICK, insetRight: PW, ...tickStyle}),
    Plot.text(labels, {y: (d) => d, frameAnchor: "left", dx: -33, rotate: -90, ...textStyle})
  ];
  return [
    Plot.ruleY(ticks, {y: (d) => d, insetLeft: PW, insetRight: -TICK, ...tickStyle}),
    Plot.text(labels, {y: (d) => d, frameAnchor: "right", dx: 39, rotate: -90, ...textStyle})
  ];
}

const chart = document.getElementById("chart");

for (let r = 0; r < 8; ++r) {
  for (let c = 0; c < 8; ++c) {
    const marks = [];
    let yDomain = limits[r];

    if (r < c) {
      const value = correlations[r][c - r - 1];
      marks.push(Plot.text([value], {text: (d) => String(d), frameAnchor: "middle",
        textAnchor: "middle", lineAnchor: "middle", fontSize: 27, fill: "black"}));
    } else if (r === c) {
      const counts = histCounts[c];
      const bins = counts.map((n, i) => ({
        x1: binStart[c] + i * binWidth[c],
        x2: binStart[c] + (i + 1) * binWidth[c],
        n
      }));
      yDomain = [0, 1.5 * d3.max(counts)];
      marks.push(
        Plot.ruleY([0], {x1: bins[0].x1, x2: bins[bins.length - 1].x2, stroke: "black", strokeWidth: 1.5}),
        Plot.rectY(bins.filter((b) => b.n > 0), {x1: "x1", x2: "x2", y: "n",
          fill: "#00FFFF", stroke: "black", strokeWidth: 1.5}),
        Plot.text([names[c]], {frameAnchor: "top", dy: 18, textAnchor: "middle",
          lineAnchor: "middle", fontSize: 17, fill: "black"})
      );
    } else {
      marks.push(
        Plot.dot(records, {x: (d) => d[c], y: (d) => d[r], r: 3.0,
          stroke: "black", strokeWidth: 2.2, fill: "none"}),
        Plot.line(smoothLines[r][c], {x: (d) => d[0], y: (d) => d[1],
          stroke: "red", strokeWidth: 2})
      );
    }

    marks.push(Plot.frame({stroke: "black", strokeWidth: 2}));

    if (r === 0 && c % 2 === 1) marks.push(...axisMarks(c, "top"));
    if (r === 7 && c % 2 === 0) marks.push(...axisMarks(c, "bottom"));
    if (c === 0 && r % 2 === 1) marks.push(...axisMarks(r, "left"));
    if (c === 7 && r % 2 === 0) marks.push(...axisMarks(r, "right"));

    const svg = Plot.plot({
      width: PW + 2 * M,
      height: PH + 2 * M,
      margin: M,
      x: {domain: limits[c], axis: null},
      y: {domain: yDomain, axis: null},
      style: {background: "transparent", fontFamily: FONT, overflow: "visible"},
      marks
    });
    const holder = document.createElement("div");
    holder.className = "panel";
    holder.style.left = (colLeft(c) - M) + "px";
    holder.style.top = (rowTop(r) - M) + "px";
    holder.style.width = (PW + 2 * M) + "px";
    holder.appendChild(svg);
    chart.appendChild(holder);
  }
}
</script>
</body>
</html>
